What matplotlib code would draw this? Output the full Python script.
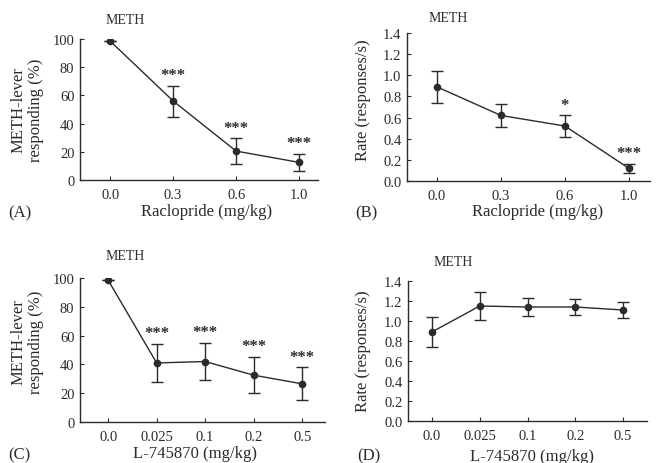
import matplotlib
matplotlib.use("Agg")
import matplotlib.pyplot as plt
import numpy as np

plt.rcParams['font.family'] = ['Liberation Serif', 'DejaVu Serif']

# Data
rac_doses = ["0.0", "0.3", "0.6", "1.0"]
rac_resp = [98.5, 56, 20.5, 12.5]
rac_resp_err = [0, 11, 9, 6]
rac_resp_sig = ["", "***", "***", "***"]
rac_rate = [0.89, 0.62, 0.52, 0.12]
rac_rate_err = [0.15, 0.11, 0.10, 0.04]
rac_rate_sig = ["", "", "*", "***"]

l7_doses = ["0.0", "0.025", "0.1", "0.2", "0.5"]
l7_resp = [98.5, 41, 42, 32.5, 26.5]
l7_resp_err = [0, 13, 13, 12.5, 11.5]
l7_resp_sig = ["", "***", "***", "***", "***"]
l7_rate = [0.89, 1.15, 1.14, 1.14, 1.11]
l7_rate_err = [0.15, 0.14, 0.09, 0.08, 0.08]
l7_rate_sig = ["", "", "", "", ""]

W, H = 657, 464
fig = plt.figure(figsize=(W / 100, H / 100), dpi=100)
fig.patch.set_facecolor('white')
col = '#2b2b2b'


def px_axes(left, right, top, bottom):
    return fig.add_axes([left / W, 1 - bottom / H, (right - left) / W, (bottom - top) / H])


def panel(ax, labels, vals, errs, sigs, ylim, yticks, yfmt, xlim):
    x = np.arange(len(labels))
    ax.errorbar(x, vals, yerr=errs, color=col, lw=1.0, marker='o', ms=4.5,
                capsize=4.5, capthick=1.0, elinewidth=1.0, mfc=col, mec=col)
    for xi, v, e, s in zip(x, vals, errs, sigs):
        if s:
            ax.annotate(s, (xi, v + e), xytext=(0, 2), textcoords='offset points',
                        ha='center', va='bottom', fontsize=12, color=col, fontweight='bold')
    ax.set_xlim(*xlim)
    ax.set_ylim(*ylim)
    ax.set_xticks(x)
    ax.set_xticklabels(labels)
    ax.set_yticks(yticks)
    ax.set_yticklabels([yfmt.format(t) for t in yticks])
    for sp in ['top', 'right']:
        ax.spines[sp].set_visible(False)
    for sp in ['left', 'bottom']:
        ax.spines[sp].set_color(col)
        ax.spines[sp].set_linewidth(1.0)
    ax.tick_params(axis='both', direction='in', length=3, width=0.8, colors=col,
                   labelsize=10.5, labelcolor=col)
    ax.tick_params(axis='x', pad=6)
    ax.tick_params(axis='y', pad=4)
    ax.patch.set_alpha(0)


axA = px_axes(80, 318, 40, 181)
panel(axA, rac_doses, rac_resp, rac_resp_err, rac_resp_sig, (0, 100),
      [0, 20, 40, 60, 80, 100], "{:.0f}", (-0.48, 3.3))
axB = px_axes(407, 650, 34, 182)
panel(axB, rac_doses, rac_rate, rac_rate_err, rac_rate_sig, (0, 1.4),
      np.round(np.arange(0, 1.41, 0.2), 1), "{:.1f}", (-0.47, 3.33))
axC = px_axes(80, 325, 279, 423)
panel(axC, l7_doses, l7_resp, l7_resp_err, l7_resp_sig, (0, 100),
      [0, 20, 40, 60, 80, 100], "{:.0f}", (-0.58, 4.47))
axD = px_axes(408, 647, 282, 422)
panel(axD, l7_doses, l7_rate, l7_rate_err, l7_rate_sig, (0, 1.4),
      np.round(np.arange(0, 1.41, 0.2), 1), "{:.1f}", (-0.5, 4.5))


def ftext(x, y, s, **kw):
    kw.setdefault('color', col)
    fig.text(x / W, 1 - y / H, s, **kw)


# METH titles
ftext(125, 20, "METH", fontsize=10, ha='center', va='center')
ftext(448, 18, "METH", fontsize=10, ha='center', va='center')
ftext(125, 257, "METH", fontsize=10, ha='center', va='center')
ftext(453, 263, "METH", fontsize=10, ha='center', va='center')

# Panel labels
ftext(8, 213, "(A)", fontsize=12, ha='left', va='center')
ftext(355, 213, "(B)", fontsize=12, ha='left', va='center')
ftext(8, 455, "(C)", fontsize=12, ha='left', va='center')
ftext(357, 456, "(D)", fontsize=12, ha='left', va='center')

# X labels
ftext(207, 212, "Raclopride (mg/kg)", fontsize=12, ha='center', va='center')
ftext(538, 212, "Raclopride (mg/kg)", fontsize=12, ha='center', va='center')
ftext(195, 454, "L-745870 (mg/kg)", fontsize=12, ha='center', va='center')
ftext(532, 457, "L-745870 (mg/kg)", fontsize=12, ha='center', va='center')

# Y labels
ftext(27, 110, "METH-lever\nresponding (%)", fontsize=12, ha='center', va='center',
      rotation=90, multialignment='center', linespacing=1.1)
ftext(363, 100, "Rate (responses/s)", fontsize=12, ha='center', va='center', rotation=90)
ftext(27, 342, "METH-lever\nresponding (%)", fontsize=12, ha='center', va='center',
      rotation=90, multialignment='center', linespacing=1.1)
ftext(363, 351, "Rate (responses/s)", fontsize=12, ha='center', va='center', rotation=90)

fig.savefig("out.png", dpi=100, facecolor='white')
